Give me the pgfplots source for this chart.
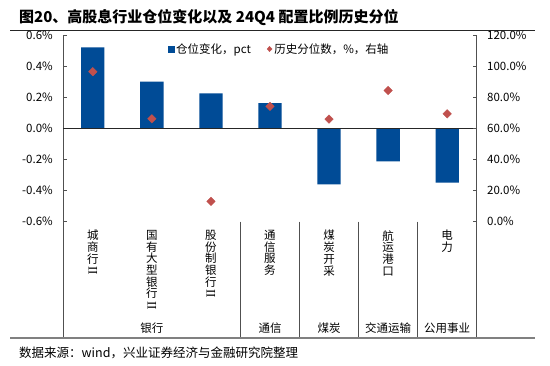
\documentclass[border=0pt]{standalone}
\usepackage{pgfplots}
\pgfplotsset{compat=1.18}
\usepackage{fontspec}
\setmainfont{Noto Sans CJK SC}
\newfontfamily\lserif{Liberation Serif}
\definecolor{barblue}{RGB}{0,75,150}
\definecolor{mkred}{RGB}{192,80,77}
\definecolor{axgray}{RGB}{80,80,80}
\let\nl\par
\newcommand{\rII}{\rotatebox[origin=c]{-90}{\lserif\fontsize{13}{13}\selectfont I\kern-0.03em I}}
\newcommand{\vlab}[1]{\vbox{\hsize=18pt\fontsize{11.5}{11.7}\selectfont\baselineskip=11.7pt\parskip=0pt\relax\lineskiplimit=-100pt\relax\lineskip=0pt\relax\parindent=0pt\leftskip=0pt plus 1fil\rightskip=0pt plus 1fil\parfillskip=0pt\relax #1\par}}
\begin{document}
\begin{tikzpicture}[x=1pt,y=1pt]
\useasboundingbox (0,0) rectangle (550,366);
\fill[white] (0,0) rectangle (550,366);
\node[anchor=west,font=\fontsize{15}{18}\selectfont\bfseries,inner sep=0] at (19,348) {图20、高股息行业仓位变化以及 24Q4 配置比例历史分位};
\draw[black!85, line width=0.8pt] (10,336) -- (535,336);
\begin{axis}[
  at={(63.3pt,144.4pt)}, anchor=south west, scale only axis,
  width=413.4pt, height=186.6pt,
  xmin=-0.5, xmax=6.5, ymin=-0.6, ymax=0.6,
  axis y line*=left, axis x line*=bottom,
  x axis line style={draw=none},
  y axis line style={axgray, line width=0.8pt, -},
  xtick={0,1,2,3,4,5,6},
  ytick={-0.6,-0.4,-0.2,0,0.2,0.4,0.6},
  tick align=inside, major tick length=4pt,
  xtick style={draw=none}, ytick style={axgray, line width=0.8pt},
  /pgf/number format/assume math mode=true,
  yticklabel={\pgfmathprintnumber[fixed,fixed zerofill,precision=1]{\tick}\%},
  yticklabel style={font=\fontsize{11.5}{13}\selectfont, xshift=-7pt},
  xticklabels={{\vlab{城\nl 商\nl 行\nl \rII}},{\vlab{国\nl 有\nl 大\nl 型\nl 银\nl 行\nl \rII}},{\vlab{股\nl 份\nl 制\nl 银\nl 行\nl \rII}},{\vlab{通\nl 信\nl 服\nl 务}},{\vlab{煤\nl 炭\nl 开\nl 采}},{\vlab{航\nl 运\nl 港\nl 口}},{\vlab{电\nl 力}}},
  xticklabel style={anchor=north, inner sep=0pt, yshift=-4.5pt},
  ybar, bar width=23.3pt,
  clip=false,
]
\addplot[fill=barblue, draw=none] coordinates {(0,0.52) (1,0.30) (2,0.225) (3,0.162) (4,-0.36) (5,-0.212) (6,-0.35)};
\draw[black!85, line width=0.8pt] (axis cs:-0.5,0) -- (axis cs:6.5,0);
\end{axis}
\begin{axis}[
  at={(63.3pt,144.4pt)}, anchor=south west, scale only axis,
  width=413.4pt, height=186.6pt,
  xmin=-0.5, xmax=6.5, ymin=0, ymax=120,
  axis y line*=right, axis x line=none,
  y axis line style={axgray, line width=0.8pt, -},
  ytick={0,20,40,60,80,100,120},
  tick align=inside, major tick length=4pt,
  ytick style={axgray, line width=0.8pt},
  /pgf/number format/assume math mode=true,
  yticklabel={\pgfmathprintnumber[fixed,fixed zerofill,precision=1]{\tick}\%},
  yticklabel style={font=\fontsize{11.5}{13}\selectfont, xshift=7pt},
  legend style={at={(0.245,0.925)}, anchor=west, draw=none, fill=none,
    legend columns=2, font=\fontsize{11.5}{13}\selectfont,
    /tikz/every even column/.append style={column sep=14pt}},
  clip=false,
]
\addlegendimage{legend image code/.code={\fill[barblue] (0pt,-3pt) rectangle (6pt,3pt);}}
\addlegendentry{仓位变化，pct}
\addplot[only marks, mark=square*, mark size=3pt, mark options={rotate=45, fill=mkred, draw=mkred},
  legend image code/.code={\fill[mkred] (0.5pt,0pt) -- (3pt,2.6pt) -- (5.5pt,0pt) -- (3pt,-2.6pt) -- cycle;}]
  coordinates {(0,96.4) (1,66.1) (2,13.0) (3,74.1) (4,65.9) (5,84.3) (6,69.3)};
\addlegendentry{历史分位数，\%，右轴}
\end{axis}
% category frame lines
\foreach \xx in {63.3,240.5,299.5,358.6,417.6,476.7} {\draw[axgray, line width=0.8pt] (\xx,144.4) -- (\xx,28);}
\draw[gray, line width=1.2pt] (10,28) -- (535,28);
\node[font=\fontsize{11.5}{13}\selectfont] at (151.9,38) {银行};
\node[font=\fontsize{11.5}{13}\selectfont] at (270.0,38) {通信};
\node[font=\fontsize{11.5}{13}\selectfont] at (329.0,38) {煤炭};
\node[font=\fontsize{11.5}{13}\selectfont] at (388.1,38) {交通运输};
\node[font=\fontsize{11.5}{13}\selectfont] at (447.2,38) {公用事业};
\node[anchor=west,inner sep=0,font=\fontsize{12.5}{14}\selectfont] at (19,13) {数据来源：wind，兴业证券经济与金融研究院整理};
\end{tikzpicture}
\end{document}
